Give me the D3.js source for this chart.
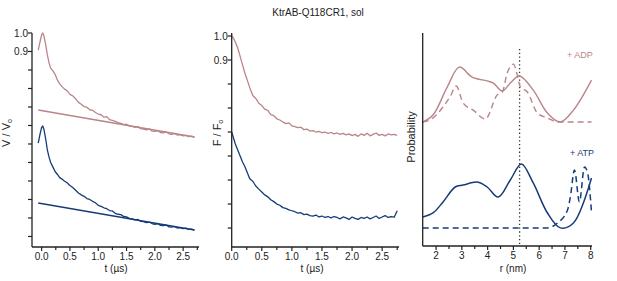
<!DOCTYPE html>
<html>
<head>
<meta charset="utf-8">
<script src="https://cdn.jsdelivr.net/npm/d3@7"></script>
<style>
body { margin: 0; background: #fff; }
text { font-family: "Liberation Sans", Arial, sans-serif; }
</style>
</head>
<body>
<div id="chart-area"></div>
<script>
// DATA
var title = "KtrAB-Q118CR1, sol"

// panel 1 (V / V0)
var t1 = [-0.06, -0.03, 0.0, 0.02, 0.04, 0.07, 0.1, 0.13, 0.16, 0.2, 0.24, 0.28, 0.32, 0.36, 0.4,
  0.45, 0.5, 0.55, 0.6, 0.65, 0.7, 0.75, 0.8, 0.85, 0.9, 0.95, 1.0, 1.05, 1.1, 1.15, 1.2, 1.25, 1.3,
  1.35, 1.4, 1.45, 1.5, 1.55, 1.6, 1.65, 1.7, 1.75, 1.8, 1.85, 1.9, 1.95, 2.0, 2.05, 2.1, 2.15, 2.2,
  2.25, 2.3, 2.35, 2.4, 2.45, 2.5, 2.55, 2.6, 2.65, 2.7]
var v1adp = [0.908, 0.95, 0.99, 1.0, 0.985, 0.94, 0.885, 0.84, 0.81, 0.795, 0.775, 0.745, 0.725, 0.71, 0.698,
  0.688, 0.668, 0.66, 0.645, 0.625, 0.615, 0.603, 0.598, 0.585, 0.582, 0.57, 0.562, 0.558, 0.545, 0.548, 0.532, 0.527, 0.522,
  0.516, 0.512, 0.505, 0.507, 0.498, 0.495, 0.49, 0.494, 0.483, 0.48, 0.476, 0.482, 0.47, 0.468, 0.472, 0.462, 0.46, 0.465,
  0.455, 0.452, 0.457, 0.448, 0.45, 0.444, 0.447, 0.44, 0.443, 0.436]
var v1atp = [0.405, 0.45, 0.49, 0.497, 0.48, 0.43, 0.37, 0.33, 0.3, 0.275, 0.25, 0.235, 0.218, 0.21, 0.2,
  0.19, 0.176, 0.165, 0.15, 0.135, 0.125, 0.117, 0.105, 0.1, 0.09, 0.082, 0.068, 0.063, 0.055, 0.05, 0.04, 0.038, 0.025,
  0.02, 0.018, 0.008, 0.006, -0.002, -0.005, -0.01, -0.008, -0.018, -0.02, -0.025, -0.022, -0.03, -0.034, -0.03, -0.04, -0.042, -0.038,
  -0.048, -0.05, -0.046, -0.055, -0.052, -0.058, -0.055, -0.062, -0.06, -0.066]
var bgT = [-0.06, 2.7]
var bgAdp = [0.584, 0.438]
var bgAtp = [0.081, -0.065]
var yTicks1 = [1.0, 0.9, 0.8, 0.7, 0.6, 0.5, 0.4, 0.3, 0.2, 0.1, 0.0, -0.1]

// panel 2 (F / F0)
var t2 = [0.0, 0.03, 0.06, 0.1, 0.14, 0.18, 0.22, 0.26, 0.3, 0.35, 0.4, 0.45, 0.5, 0.55, 0.6, 0.65, 0.7,
  0.75, 0.8, 0.85, 0.9, 0.95, 1.0, 1.05, 1.1, 1.15, 1.2, 1.25, 1.3, 1.35, 1.4, 1.45, 1.5, 1.55, 1.6, 1.65,
  1.7, 1.75, 1.8, 1.85, 1.9, 1.95, 2.0, 2.05, 2.1, 2.15, 2.2, 2.25, 2.3, 2.35, 2.4, 2.45, 2.5, 2.55, 2.6,
  2.65, 2.7, 2.75]
var f2adp = [1.0, 0.99, 0.975, 0.95, 0.915, 0.88, 0.845, 0.815, 0.785, 0.752, 0.74, 0.72, 0.71, 0.695, 0.69, 0.672, 0.668,
  0.655, 0.65, 0.642, 0.635, 0.638, 0.626, 0.622, 0.618, 0.62, 0.61, 0.612, 0.604, 0.606, 0.6, 0.603, 0.597, 0.6, 0.594, 0.598,
  0.592, 0.596, 0.59, 0.594, 0.588, 0.592, 0.585, 0.59, 0.582, 0.592, 0.586, 0.595, 0.584, 0.59, 0.596, 0.586, 0.59, 0.584, 0.592,
  0.588, 0.59, 0.586]
var f2atp = [0.6, 0.575, 0.55, 0.525, 0.5, 0.475, 0.455, 0.43, 0.405, 0.395, 0.375, 0.362, 0.35, 0.338, 0.33, 0.318, 0.31,
  0.3, 0.295, 0.285, 0.282, 0.276, 0.272, 0.268, 0.262, 0.264, 0.256, 0.258, 0.252, 0.25, 0.254, 0.246, 0.25, 0.244, 0.248, 0.242,
  0.248, 0.244, 0.238, 0.246, 0.242, 0.236, 0.246, 0.24, 0.236, 0.244, 0.24, 0.246, 0.238, 0.244, 0.25, 0.24, 0.246, 0.252, 0.244,
  0.248, 0.245, 0.272]
var yTicks2 = [1.0, 0.9, 0.8, 0.7, 0.6, 0.5, 0.4, 0.3, 0.2]

var xMajor = [0, 0.5, 1.0, 1.5, 2.0, 2.5]
var xMinor = [0.25, 0.75, 1.25, 1.75, 2.25, 2.75]

// panel 3 (distance distributions)
var rAdp = [1.48, 1.88, 2.43, 2.9, 3.4, 3.98, 4.22, 4.57, 4.88, 5.23, 5.77, 6.32, 6.82, 7.33, 8.03]
var pAdp = [0.582, 0.615, 0.746, 0.84, 0.793, 0.775, 0.765, 0.728, 0.765, 0.798, 0.732, 0.624, 0.582, 0.638, 0.779]
var rAdpD = [1.48, 1.88, 2.27, 2.54, 2.78, 3.05, 3.44, 3.91, 4.37, 4.57, 4.76, 5.0, 5.15, 5.27, 5.54, 5.93, 6.32, 6.71, 8.03]
var pAdpD = [0.582, 0.601, 0.653, 0.7, 0.751, 0.671, 0.638, 0.596, 0.709, 0.723, 0.812, 0.854, 0.803, 0.746, 0.723, 0.624, 0.601, 0.582, 0.582]
var rAtp = [1.48, 1.88, 2.27, 2.74, 3.05, 3.6, 3.98, 4.41, 4.88, 5.31, 5.77, 6.32, 6.82, 7.33, 8.03]
var pAtp = [0.136, 0.155, 0.207, 0.277, 0.286, 0.3, 0.277, 0.23, 0.31, 0.385, 0.296, 0.155, 0.085, 0.108, 0.319]
var rAtpD = [1.48, 6.32, 6.71, 7.1, 7.21, 7.37, 7.56, 7.76, 7.88, 8.03]
var pAtpD = [0.085, 0.085, 0.108, 0.169, 0.23, 0.357, 0.207, 0.371, 0.343, 0.16]
var rMarker = 5.24
var rTicks = [2, 3, 4, 5, 6, 7, 8]
var rMinor = [2.5, 3.5, 4.5, 5.5, 6.5, 7.5]

var pink = "#b98589"
var blue = "#163c78"
var axisCol = "#222"

var width = 617
var height = 281

var svg = d3.select("#chart-area").append("svg")
.attr("width", width)
.attr("height", height)

svg.append("text")
.attr("x", 318)
.attr("y", 16)
.attr("font-size", "10px")
.attr("text-anchor", "middle")
.style("fill", "#222")
.text(title)

const zip = (a, b) => a.map((d, i) => [d, b[i]])

const drawAxisX = (x, y0, major, minor, fmt) => {
	var g = svg.append("g").attr("transform", "translate(0, " + y0 + ")")
	g.append("line")
	.attr("x1", x.range()[0]).attr("x2", x.range()[1])
	.attr("stroke", axisCol).attr("stroke-width", 1.3)
	g.selectAll(".maj").data(major).enter().append("line")
	.attr("x1", d => x(d)).attr("x2", d => x(d))
	.attr("y1", 0).attr("y2", 4)
	.attr("stroke", axisCol).attr("stroke-width", 1.2)
	g.selectAll(".min").data(minor).enter().append("line")
	.attr("x1", d => x(d)).attr("x2", d => x(d))
	.attr("y1", 0).attr("y2", 3)
	.attr("stroke", axisCol).attr("stroke-width", 1.2)
	g.selectAll("text").data(major).enter().append("text")
	.attr("x", d => x(d))
	.attr("y", 12.5)
	.attr("font-size", "10px")
	.attr("text-anchor", "middle")
	.style("fill", "#222")
	.text(fmt)
}

const drawAxisY = (y, x0, ticks, labelled) => {
	var g = svg.append("g").attr("transform", "translate(" + x0 + ", 0)")
	g.append("line")
	.attr("y1", y.range()[0]).attr("y2", y.range()[1])
	.attr("stroke", axisCol).attr("stroke-width", 1.3)
	g.selectAll(".tk").data(ticks).enter().append("line")
	.attr("y1", d => y(d)).attr("y2", d => y(d))
	.attr("x1", -4).attr("x2", 0)
	.attr("stroke", axisCol).attr("stroke-width", 1.2)
	g.selectAll("text").data(labelled).enter().append("text")
	.attr("x", -4)
	.attr("y", d => y(d) + 3.5)
	.attr("font-size", "10px")
	.attr("text-anchor", "end")
	.style("fill", "#222")
	.text(d => d3.format(".1f")(d))
}

const yLabel = (x, y, main, sub) => {
	var tx = svg.append("text")
	.attr("transform", "translate(" + x + ", " + y + ") rotate(-90)")
	.attr("font-size", "11px")
	.attr("text-anchor", "middle")
	.style("fill", "#222")
	tx.append("tspan").text(main)
	if (sub) tx.append("tspan").attr("font-size", "7px").attr("dy", 2).text(sub)
}

const xLabel = (x, y, txt) => {
	svg.append("text")
	.attr("x", x).attr("y", y)
	.attr("font-size", "10px")
	.attr("text-anchor", "middle")
	.style("fill", "#222")
	.text(txt)
}

const trace = (x, y, pts, color, w, curve, dash) => {
	var line = d3.line().x(d => x(d[0])).y(d => y(d[1])).curve(curve || d3.curveLinear)
	var p = svg.append("path")
	.attr("d", line(pts))
	.attr("fill", "none")
	.attr("stroke", color)
	.attr("stroke-width", w)
	.attr("stroke-linejoin", "round")
	if (dash) p.attr("stroke-dasharray", dash)
}

// PANEL 1
var x1 = d3.scaleLinear().domain([-0.17, 2.78]).range([32, 199])
var y1 = d3.scaleLinear().domain([-0.157, 1.0]).range([247, 33])

trace(x1, y1, zip(bgT, bgAdp), pink, 1.4)
trace(x1, y1, zip(bgT, bgAtp), blue, 1.4)
trace(x1, y1, zip(t1, v1adp), pink, 1.3)
trace(x1, y1, zip(t1, v1atp), blue, 1.3)
drawAxisY(y1, 32, yTicks1, [1.0, 0.9])
drawAxisX(x1, 247, xMajor, xMinor, d => d3.format(".1f")(d))
yLabel(10, 133, "V / V", "o")
xLabel(116, 271.5, "t (\u00b5s)")

// PANEL 2
var x2 = d3.scaleLinear().domain([0, 2.78]).range([231.7, 399])
var y2 = d3.scaleLinear().domain([0.121, 1.0125]).range([247, 33])

trace(x2, y2, zip(t2, f2adp), pink, 1.3)
trace(x2, y2, zip(t2, f2atp), blue, 1.3)
drawAxisY(y2, 231.7, yTicks2, [1.0, 0.9])
drawAxisX(x2, 247, xMajor, xMinor, d => d3.format(".1f")(d))
yLabel(221, 133, "F / F", "o")
xLabel(312, 271.5, "t (\u00b5s)")

// PANEL 3
var x3 = d3.scaleLinear().domain([1.48, 8.05]).range([422.7, 592])
var y3 = d3.scaleLinear().domain([0, 1]).range([246, 33])

svg.append("line")
.attr("x1", x3(rMarker)).attr("x2", x3(rMarker))
.attr("y1", y3(0.925)).attr("y2", y3(0))
.attr("stroke", "#333")
.attr("stroke-width", 1.3)
.attr("stroke-dasharray", "1.3,2.5")

trace(x3, y3, zip(rAdp, pAdp), pink, 1.4, d3.curveCatmullRom)
trace(x3, y3, zip(rAdpD, pAdpD), pink, 1.4, d3.curveMonotoneX, "6,4")
trace(x3, y3, zip(rAtp, pAtp), blue, 1.5, d3.curveCatmullRom)
trace(x3, y3, zip(rAtpD, pAtpD), blue, 1.5, d3.curveMonotoneX, "6,4")

svg.append("line")
.attr("x1", 422.7).attr("x2", 422.7)
.attr("y1", 33).attr("y2", 246)
.attr("stroke", axisCol).attr("stroke-width", 1.3)
drawAxisX(x3, 246, rTicks, rMinor, d => d)
yLabel(415, 137, "Probability")
xLabel(513, 271.5, "r (nm)")

svg.append("text")
.attr("x", 580).attr("y", 58)
.attr("font-size", "9px")
.attr("text-anchor", "middle")
.style("fill", pink)
.text("+ ADP")

svg.append("text")
.attr("x", 582).attr("y", 156)
.attr("font-size", "9px")
.attr("text-anchor", "middle")
.style("fill", blue)
.text("+ ATP")
</script>
</body>
</html>
